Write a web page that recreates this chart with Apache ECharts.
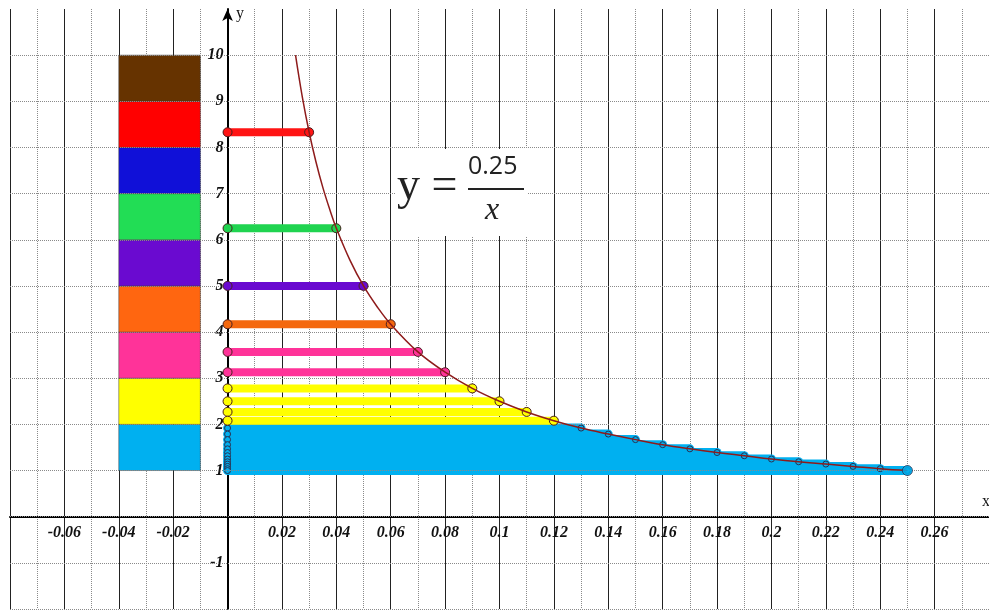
<!DOCTYPE html>
<html>
<head>
<meta charset="utf-8">
<script src="https://cdn.jsdelivr.net/npm/echarts@6/dist/echarts.min.js"></script>
<style>
  html, body { margin: 0; padding: 0; background: #fff; }
  #chart { width: 989px; height: 611px; }
</style>
</head>
<body>
<div id="chart"></div>
<script>
// curve y = 0.25 / x
const curveX = [0.025, 0.0275, 0.03, 0.0325, 0.035, 0.0375, 0.04, 0.045, 0.05, 0.055, 0.06, 0.07, 0.08, 0.09, 0.1, 0.11, 0.12,
  0.13, 0.14, 0.15, 0.16, 0.17, 0.18, 0.19, 0.2, 0.21, 0.22, 0.23, 0.24, 0.25]
const curveY = [10, 9.09, 8.33, 7.69, 7.14, 6.67, 6.25, 5.56, 5, 4.55, 4.17, 3.57, 3.13, 2.78, 2.5, 2.27, 2.08,
  1.92, 1.79, 1.67, 1.56, 1.47, 1.39, 1.32, 1.25, 1.19, 1.14, 1.09, 1.04, 1.0]

// thick horizontal strips from x = 0 to the curve
const stripX = [0.03, 0.04, 0.05, 0.06, 0.07, 0.08, 0.09, 0.1, 0.11, 0.12]
const stripY = [8.33, 6.25, 5, 4.17, 3.57, 3.13, 2.78, 2.5, 2.27, 2.08]
const stripColor = ['#ff1414', '#20d450', '#6a0ad0', '#f4680e', '#ff3399', '#ff3399', '#ffff00', '#ffff00', '#ffff00', '#ffff00']

// blue staircase
const blueX = [0.13, 0.14, 0.15, 0.16, 0.17, 0.18, 0.19, 0.2, 0.21, 0.22, 0.23, 0.24, 0.25]
const blueY = [1.92, 1.79, 1.67, 1.56, 1.47, 1.39, 1.32, 1.25, 1.19, 1.14, 1.09, 1.04, 1.0]

// colour column on the left
const blockFrom = [1, 2, 3, 4, 5, 6, 7, 8, 9]
const blockColor = ['#00b0f0', '#ffff00', '#ff3399', '#ff6610', '#6a0ad0', '#22dd55', '#1010d8', '#ff0000', '#663300']
const blockLeft = -0.04
const blockRight = -0.01

// horizontal grid
const yGrid = [-2, -1, 0, 1, 2, 3, 4, 5, 6, 7, 8, 9, 10]

const W = 989
const H = 611
const gridBox = { left: 10, right: 0, top: 9, bottom: 2 }
const xMin = -0.08
const xMax = 0.28
const yMin = -2
const yMax = 11

const labelFont = {
  fontFamily: 'Liberation Serif',
  fontStyle: 'italic',
  fontWeight: 'bold',
  fontSize: 16,
  color: '#111'
}

// put the axes through the origin
const gw = W - gridBox.left - gridBox.right
const gh = H - gridBox.top - gridBox.bottom
const xAxisOffset = -(gh * (0 - yMin) / (yMax - yMin))
const yAxisOffset = -(gw * (0 - xMin) / (xMax - xMin))

const series = []

series.push({
  type: 'line',
  data: [],
  z: 1,
  silent: true,
  markLine: {
    silent: true,
    symbol: 'none',
    label: { show: false },
    lineStyle: { type: [1, 1], color: '#8a8a8a', width: 1 },
    data: yGrid.map(v => ({ yAxis: v }))
  }
})

series.push({
  type: 'custom',
  z: 3,
  silent: true,
  data: blockFrom.map((b, i) => [blockLeft, blockRight, b, b + 1, i]),
  renderItem: function(params, api) {
    const p0 = api.coord([api.value(0), api.value(3)])
    const p1 = api.coord([api.value(1), api.value(2)])
    return {
      type: 'rect',
      shape: { x: p0[0], y: p0[1], width: p1[0] - p0[0], height: p1[1] - p0[1] },
      style: { fill: blockColor[api.value(4)], stroke: 'rgba(60,60,60,0.5)', lineWidth: 1 }
    }
  }
})

// blue area under the staircase
series.push({
  type: 'line',
  z: 3,
  silent: true,
  step: 'start',
  symbol: 'none',
  lineStyle: { width: 0 },
  areaStyle: { color: '#00b0f0', opacity: 1, origin: 1 },
  data: [[0, blueY[0]]].concat(blueX.map((x, i) => [x, blueY[i]]))
})

blueX.forEach((x, i) => {
  series.push({
    type: 'line',
    z: 4,
    silent: true,
    symbol: 'circle',
    symbolSize: 6,
    itemStyle: { color: '#00b0f0', borderColor: '#2a3050', borderWidth: 1 },
    lineStyle: { color: '#00b0f0', width: 9, cap: 'round' },
    data: [[0, blueY[i]], [x, blueY[i]]]
  })
})

stripX.forEach((x, i) => {
  series.push({
    type: 'line',
    z: 5,
    silent: true,
    symbol: 'circle',
    symbolSize: 9,
    itemStyle: { color: stripColor[i], borderColor: '#4a2020', borderWidth: 1 },
    lineStyle: { color: stripColor[i], width: 8, cap: 'round' },
    data: [[0, stripY[i]], [x, stripY[i]]]
  })
})

series.push({
  type: 'line',
  z: 6,
  silent: true,
  smooth: 0.4,
  symbol: 'none',
  lineStyle: { color: '#8e1b1b', width: 1.5 },
  data: curveX.map((x, i) => [x, curveY[i]])
})

// final point
series.push({
  type: 'scatter',
  z: 7,
  silent: true,
  symbolSize: 10,
  itemStyle: { color: '#00b0f0', borderColor: '#2a3050', borderWidth: 1 },
  data: [[blueX[blueX.length - 1], blueY[blueY.length - 1]]]
})

const myChart = echarts.init(document.getElementById('chart'))
myChart.setOption({
  animation: false,
  backgroundColor: '#fff',
  grid: {
    left: gridBox.left,
    right: gridBox.right,
    top: gridBox.top,
    bottom: gridBox.bottom,
    containLabel: false,
    outerBoundsMode: 'none'
  },
  xAxis: {
    type: 'value',
    min: xMin,
    max: xMax,
    interval: 0.02,
    position: 'bottom',
    offset: xAxisOffset,
    axisLine: { show: true, onZero: false, lineStyle: { color: '#000', width: 2 } },
    axisTick: { show: false },
    axisLabel: Object.assign({
      margin: 8,
      showMinLabel: true,
      showMaxLabel: true,
      formatter: function(v) {
        if (Math.abs(v) < 1e-9 || v < -0.07 || v > 0.27) return ''
        return String(Math.round(v * 100) / 100)
      }
    }, labelFont),
    splitLine: { show: true, lineStyle: { color: '#222', width: 1, type: 'solid' } },
    minorTick: { show: false, splitNumber: 2 },
    minorSplitLine: { show: true, lineStyle: { color: '#8a8a8a', width: 1, type: [1, 1] } }
  },
  yAxis: {
    type: 'value',
    min: yMin,
    max: yMax,
    interval: 1,
    position: 'left',
    offset: yAxisOffset,
    axisLine: {
      show: true,
      onZero: false,
      symbol: ['none', 'arrow'],
      symbolSize: [8, 12],
      lineStyle: { color: '#000', width: 2 }
    },
    axisTick: { show: false },
    axisLabel: Object.assign({
      margin: 4,
      formatter: function(v) {
        if (v === 0 || v < -1 || v > 10) return ''
        return String(v)
      }
    }, labelFont),
    splitLine: { show: false }
  },
  graphic: [
    { type: 'rect', z: 50, shape: { x: 395, y: 149, width: 132, height: 87 }, style: { fill: '#fff' } },
    { type: 'text', z: 51, left: 397, top: 164, style: { text: 'y =', font: '46px "Liberation Serif"', fill: '#222' } },
    { type: 'text', z: 51, left: 468, top: 154, style: { text: '0.25', font: '25px "Open Sans"', fill: '#222' } },
    { type: 'rect', z: 51, shape: { x: 468, y: 188, width: 56, height: 2 }, style: { fill: '#222' } },
    { type: 'text', z: 51, left: 485, top: 195, style: { text: 'x', font: 'italic 32px "Liberation Serif"', fill: '#222' } },
    { type: 'text', z: 51, left: 236, top: 6, style: { text: 'y', font: '16px "Liberation Serif"', fill: '#111' } },
    { type: 'text', z: 51, left: 982, top: 494, style: { text: 'x', font: '16px "Liberation Serif"', fill: '#111' } }
  ],
  series: series
})
</script>
</body>
</html>
